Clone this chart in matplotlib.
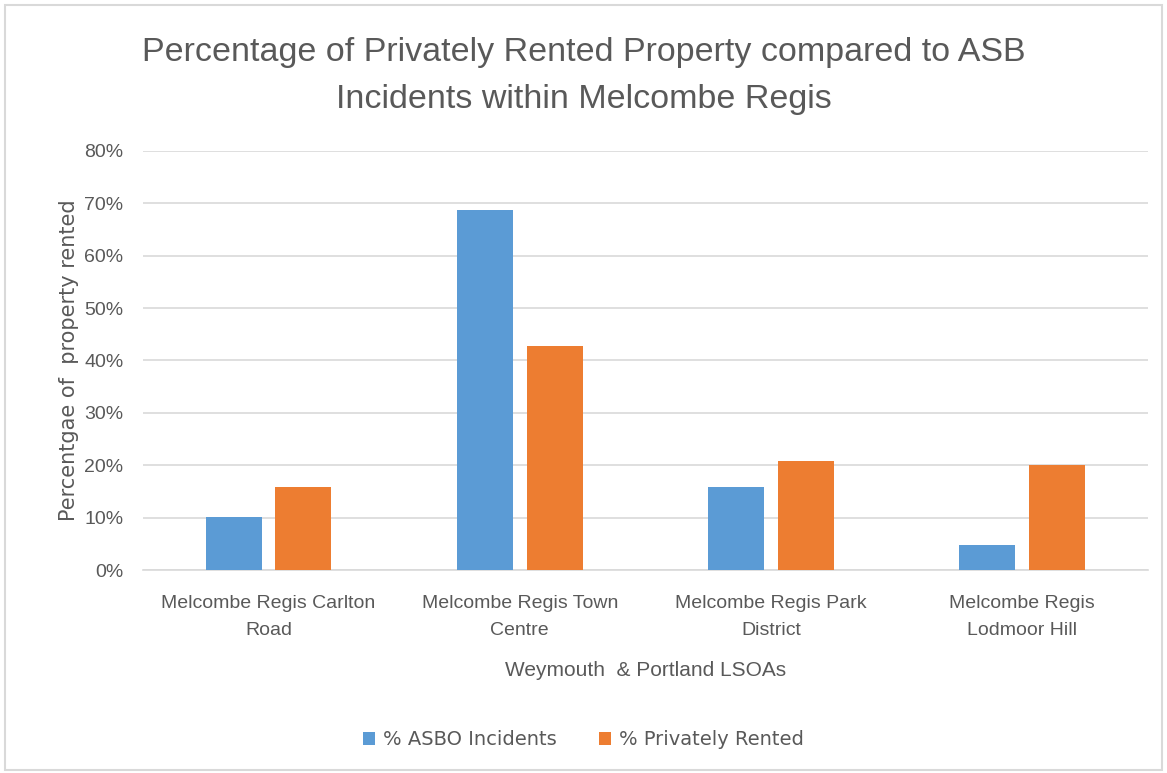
import matplotlib as mpl
mpl.use('Agg')
import matplotlib.pyplot as plt
import numpy as np
from matplotlib.patches import Rectangle

categories = ["Melcombe Regis Carlton\nRoad", "Melcombe Regis Town\nCentre",
              "Melcombe Regis Park\nDistrict", "Melcombe Regis\nLodmoor Hill"]
asbo = [10.1, 68.7, 15.8, 4.8]
rented = [15.8, 42.7, 20.9, 20.0]

blue = '#5B9BD5'
orange = '#ED7D31'
txt = '#595959'
narrow = ['Liberation Sans Narrow', 'Liberation Sans', 'DejaVu Sans']

fig = plt.figure(figsize=(11.67, 7.73), dpi=100)
fig.patches.append(Rectangle((0.004, 0.004), 0.992, 0.99, transform=fig.transFigure,
                             fill=False, ec='#D9D9D9', lw=1.5))
ax = fig.add_axes([0.1225, 0.2626, 0.861, 0.5421])

x = np.arange(len(categories))
w = 0.223
ax.bar(x - 0.139, asbo, w, color=blue, label='% ASBO Incidents', zorder=3)
ax.bar(x + 0.139, rented, w, color=orange, label='% Privately Rented', zorder=3)

ax.set_xlim(-0.5, 3.5)
ax.set_ylim(0, 80)
ax.set_yticks(np.arange(0, 81, 10))
ax.set_yticklabels([f"{v}%" for v in range(0, 81, 10)], family=narrow, fontsize=14, color=txt)
ax.set_xticks(x)
ax.set_xticklabels(categories, family=narrow, fontsize=14, color=txt, linespacing=1.75)
ax.tick_params(length=0)
ax.tick_params(axis='x', pad=18)
ax.tick_params(axis='y', pad=14)
ax.grid(axis='y', color='#D9D9D9', lw=1.2, zorder=0)
for s in ['top', 'right', 'left']:
    ax.spines[s].set_visible(False)
ax.spines['bottom'].set_color('#D9D9D9')
ax.spines['bottom'].set_linewidth(1.2)

ax.set_xlabel("Weymouth  & Portland LSOAs", family=narrow, fontsize=15, color=txt, labelpad=16)
ax.set_ylabel("Percentgae of  property rented", fontsize=15, color=txt, labelpad=4)

fig.suptitle("Percentage of Privately Rented Property compared to ASB\nIncidents within Melcombe Regis",
             family=narrow, fontsize=24.5, color=txt, y=0.952, linespacing=1.65)

leg = fig.legend(loc='center', bbox_to_anchor=(0.5, 0.043), ncol=2, frameon=False,
                 fontsize=14, handlelength=0.6, handleheight=0.6, columnspacing=2.2,
                 handletextpad=0.4)
for t in leg.get_texts():
    t.set_color(txt)

fig.savefig('out.png', dpi=100)
